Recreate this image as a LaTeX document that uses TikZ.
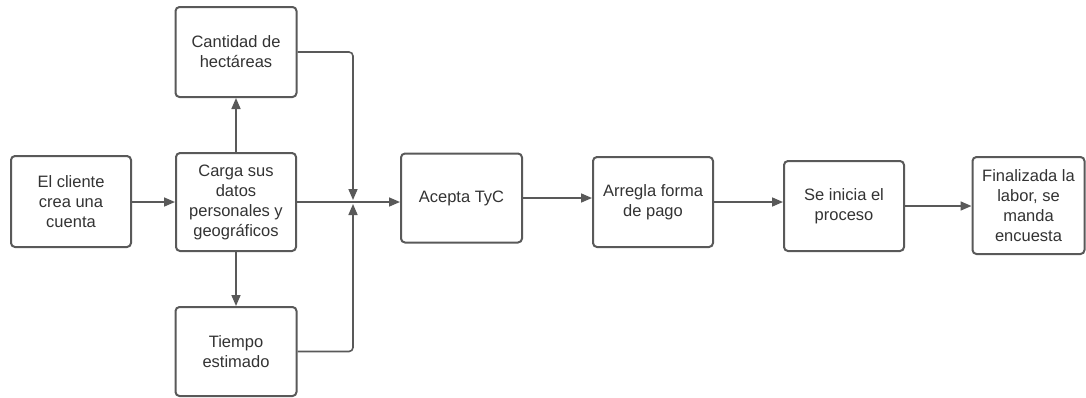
\documentclass[tikz,border=0pt]{standalone}
\usepackage{fontspec}
\setmainfont{Liberation Sans}
\usetikzlibrary{arrows.meta}
\definecolor{edge}{HTML}{595959}
\definecolor{ink}{HTML}{333333}
\tikzset{
  stepbox/.style={draw=edge, line width=2pt, rounded corners=4pt, fill=white,
    align=center, text=ink, inner sep=2pt,
    font=\fontsize{16.5}{20}\selectfont},
  flow/.style={draw=edge, line width=1.6pt,
    -{Triangle[length=11pt,width=9pt]}},
  link/.style={draw=edge, line width=1.6pt, rounded corners=4pt}
}
\begin{document}
\begin{tikzpicture}[x=1pt,y=-1pt]
\useasboundingbox (0,0) rectangle (1086,397);
\node[stepbox, minimum width=120pt, minimum height=91pt] (cliente) at (71,201.5) {El cliente\\crea una\\cuenta};
\node[stepbox, minimum width=120pt, minimum height=98pt] (carga) at (236,202) {Carga sus\\datos\\personales y\\geográficos};
\node[stepbox, minimum width=121pt, minimum height=90pt] (ha) at (236,52) {Cantidad de\\hectáreas};
\node[stepbox, minimum width=121pt, minimum height=89pt] (tiempo) at (236,351.5) {Tiempo\\estimado};
\node[stepbox, minimum width=121pt, minimum height=89pt] (tyc) at (461.5,198) {Acepta TyC};
\node[stepbox, minimum width=120pt, minimum height=90pt] (pago) at (653,202) {Arregla forma\\de pago};
\node[stepbox, minimum width=120pt, minimum height=90pt] (inicio) at (844,206) {Se inicia el\\proceso};
\node[stepbox, minimum width=112pt, minimum height=97pt] (fin) at (1028.5,205.5) {Finalizada la\\labor, se\\manda\\encuesta};
\coordinate (m) at (353,202);
\coordinate (mt) at (353,200);
\coordinate (mb) at (353,204);
% main flow
\draw[flow] (cliente.east |- carga.west) -- (carga.west);
\draw[flow] (carga.north) -- (ha.south);
\draw[flow] (carga.south) -- (tiempo.north);
\draw[flow] (carga.east) -- (tyc.west |- m);
% side branches joining the main line
\draw[link] (ha.east) -- (ha.east -| m) -- ++(0,60);
\draw[flow] (m |- 0,110) -- (mt);
\draw[link] (tiempo.east) -- (tiempo.east -| m) -- ++(0,-60);
\draw[flow] (m |- 0,295) -- (mb);
\draw[flow] (tyc.east) -- (tyc.east -| pago.west);
\draw[flow] (pago.east) -- (pago.east -| inicio.west);
\draw[flow] (inicio.east) -- (inicio.east -| fin.west);
\end{tikzpicture}
\end{document}
